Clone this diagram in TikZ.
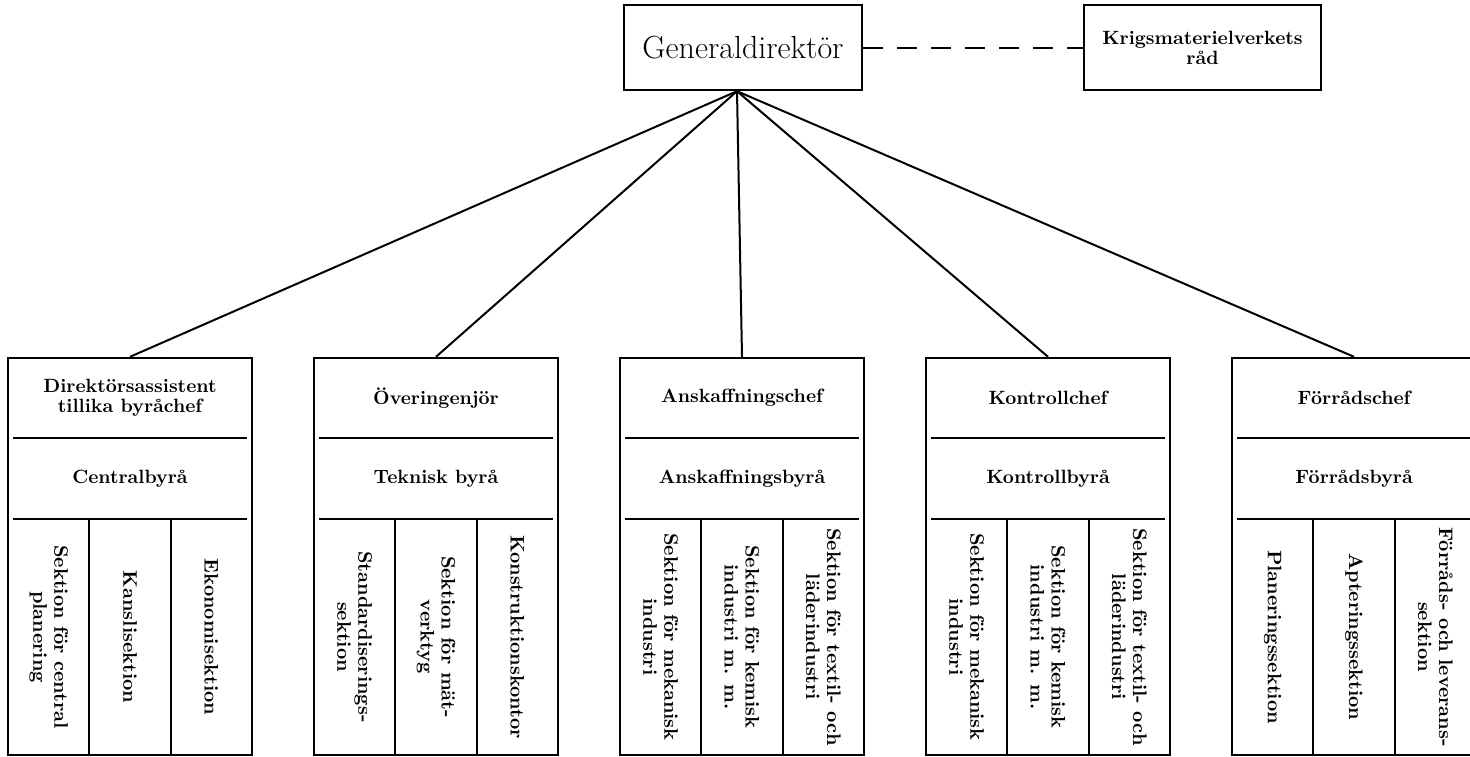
\documentclass[tikz,border=0pt]{standalone}
\usepackage{fontspec}
\usepackage{tikz}
\tikzset{
	ruta/.style={draw,line width=1.2pt,inner sep=0pt},
	rubrik/.style={font=\bfseries\fontsize{9.6}{10}\selectfont,align=center},
	sektion/.style={font=\bfseries\fontsize{9.8}{10.5}\selectfont,align=center,rotate=-90},
	linje/.style={line width=1pt},
}
% #1 namn, #2 vanster kant, #3 chef, #4 byra, #5-#7 sektioner
\newcommand{\byra}[7]{%
	\node[ruta,minimum width=122pt,minimum height=198.5pt] (#1) at (#2+122,556.5) {};
	\node[rubrik] (#1chef) at (#2+122,398) {#3};
	\node[rubrik] (#1byra) at (#2+122,478.5) {#4};
	\draw[linje] (#2+5,438) -- (#2+239,438);
	\draw[linje] (#2+5,519) -- (#2+239,519);
	\draw[linje] (#2+81.3,519) -- (#2+81.3,755);
	\draw[linje] (#2+162.7,519) -- (#2+162.7,755);
	\node[sektion] (#1a) at (#2+40.7,637) {#5};
	\node[sektion] (#1b) at (#2+122,637) {#6};
	\node[sektion] (#1c) at (#2+203.3,637) {#7};
}

\begin{document}
\begin{tikzpicture}[x=0.5pt,y=-0.5pt]
	\useasboundingbox (0,0) rectangle (1470,756);

	\node[ruta,minimum width=119pt,minimum height=42.5pt,font=\fontsize{16}{18}\selectfont] (gd) at (743,47.5) {Generaldirektör};
	\node[ruta,minimum width=118.5pt,minimum height=42.5pt,font=\bfseries\fontsize{9.6}{10}\selectfont,align=center] (rad) at (1202.5,47.5) {Krigsmaterielverkets\\råd};
	\draw[linje,dash pattern=on 10pt off 7pt] (gd.east) -- (rad.west);

	\byra{central}{8}{Direktörsassistent\\tillika byråchef}{Centralbyrå}
		{Sektion för central\\planering}{Kanslisektion}{Ekonomisektion}
	\byra{teknisk}{314}{Överingenjör}{Teknisk byrå}
		{Standardiserings-\\sektion}{Sektion för mät-\\verktyg}{Konstruktionskontor}
	\byra{anskaff}{620}{Anskaffningschef}{Anskaffningsbyrå}
		{Sektion för mekanisk\\industri}{Sektion för kemisk\\industri m. m.}{Sektion för textil- och\\läderindustri}
	\byra{kontroll}{926}{Kontrollchef}{Kontrollbyrå}
		{Sektion för mekanisk\\industri}{Sektion för kemisk\\industri m. m.}{Sektion för textil- och\\läderindustri}
	\byra{forrad}{1232}{Förrådschef}{Förrådsbyrå}
		{Planeringssektion}{Apteringssektion}{Förråds- och leverans-\\sektion}

	% linjerna utgar nagot till vanster om mitten
	\coordinate (topp) at ([xshift=-3pt]gd.south);
	\draw[linje] (topp) -- (central.north);
	\draw[linje] (topp) -- (teknisk.north);
	\draw[linje] (topp) -- (anskaff.north);
	\draw[linje] (topp) -- (kontroll.north);
	\draw[linje] (topp) -- (forrad.north);
\end{tikzpicture}
\end{document}
